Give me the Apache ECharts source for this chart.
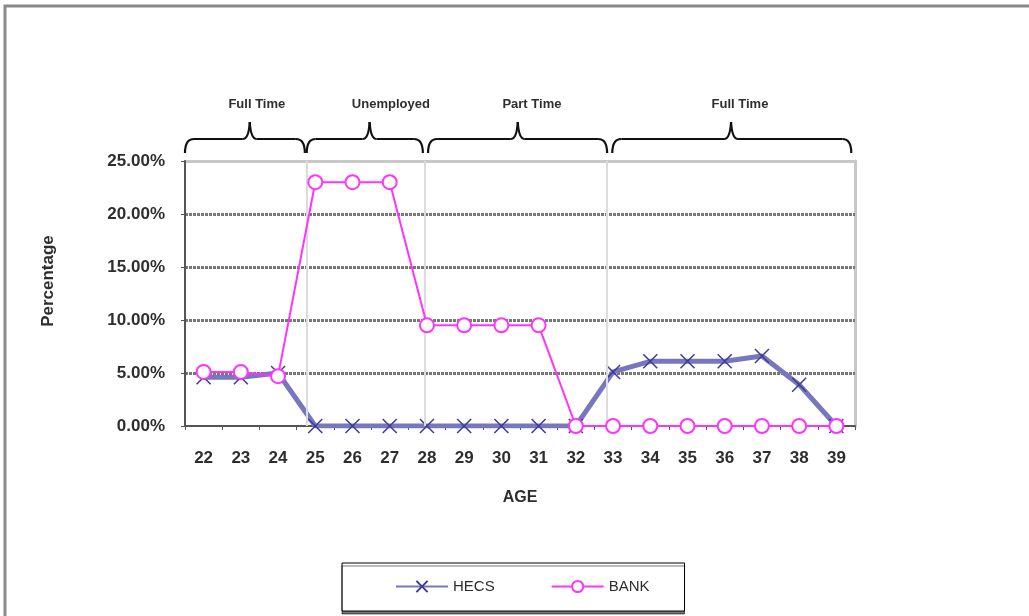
<!DOCTYPE html>
<html>
<head>
<meta charset="utf-8">
<script src="https://cdn.jsdelivr.net/npm/echarts@6/dist/echarts.min.js"></script>
<style>
  html, body { margin: 0; padding: 0; background: #fff; }
  #chart { width: 1029px; height: 616px; }
</style>
</head>
<body>
<div id="chart"></div>
<script>
// Ages on the category axis
const ages = ['22', '23', '24', '25', '26', '27', '28', '29', '30', '31', '32', '33', '34', '35', '36', '37', '38', '39'];
// Repayment share of income, in percent
const hecs = [4.6, 4.6, 5.0, 0, 0, 0, 0, 0, 0, 0, 0, 5.1, 6.1, 6.1, 6.1, 6.6, 3.9, 0];
const bank = [5.1, 5.1, 4.7, 23.0, 23.0, 23.0, 9.5, 9.5, 9.5, 9.5, 0, 0, 0, 0, 0, 0, 0, 0];
// Y axis ticks (percent)
const yTicks = [0, 5, 10, 15, 20, 25];

// Employment phases along the age scale (age 22 sits at 22, category edges at x.5)
const phaseLabels = ['Full Time', 'Unemployed', 'Part Time', 'Full Time'];
const phaseStart = [21.5, 24.77, 28.03, 32.98];
const phaseEnd = [24.72, 27.89, 32.84, 39.4];
const phaseTip = [23.24, 26.46, 30.44, 36.17];
const phaseLabelAt = [23.43, 27.03, 30.82, 36.41];
// Boundaries between phases
const dividers = [24.77, 27.94, 32.84];

const FONT = '"Liberation Sans", Arial, sans-serif';
const TXT = '#2e2e2e';

const chart = echarts.init(document.getElementById('chart'), null, { renderer: 'canvas' });

const baseGraphic = [
  {
    type: 'rect',
    z: -10,
    silent: true,
    shape: { x: 5, y: 6, width: 1100, height: 700 },
    style: { fill: 'none', stroke: '#8a8a8a', lineWidth: 3 }
  },
  {
    type: 'text',
    silent: true,
    x: 48, y: 281,
    rotation: Math.PI / 2,
    style: {
      text: 'Percentage',
      fontFamily: FONT, fontSize: 17, fontWeight: 'bold', fill: TXT,
      align: 'center', verticalAlign: 'middle'
    }
  }
];

const option = {
  backgroundColor: '#fff',
  animation: false,
  textStyle: { fontFamily: FONT },
  grid: { left: 185, right: 174, top: 161, bottom: 190, containLabel: false },
  legend: {
    data: ['HECS', 'BANK'],
    left: 342, top: 563,
    orient: 'horizontal',
    itemWidth: 52, itemHeight: 14, itemGap: 56,
    padding: [16, 35, 17, 53],
    backgroundColor: '#fff',
    borderColor: '#000', borderWidth: 1,
    shadowColor: 'rgba(0,0,0,0.55)', shadowOffsetX: 0, shadowOffsetY: 3, shadowBlur: 0,
    textStyle: { fontFamily: FONT, fontSize: 15, color: TXT }
  },
  xAxis: [
    {
      type: 'category',
      data: ages,
      boundaryGap: true,
      name: 'AGE',
      nameLocation: 'middle',
      nameGap: 64,
      nameTextStyle: { fontFamily: FONT, fontSize: 16, fontWeight: 'bold', color: TXT },
      axisLine: { lineStyle: { color: '#555', width: 2 } },
      axisTick: { show: true, length: 4, lineStyle: { color: '#555', width: 1 } },
      axisLabel: { margin: 24, fontFamily: FONT, fontSize: 17, fontWeight: 'bold', color: TXT },
      splitLine: { show: false },
      z: 3
    },
    {
      // age scale used to place phase braces and dividers; also draws the top frame
      type: 'value',
      position: 'top',
      min: 21.5, max: 39.5,
      axisLine: { show: true, onZero: false, lineStyle: { color: '#c8c8c8', width: 3 } },
      axisTick: { show: false },
      axisLabel: { show: false },
      splitLine: { show: false }
    }
  ],
  yAxis: [
    {
      type: 'value',
      min: 0, max: 25, interval: 5,
      axisLine: { show: true, lineStyle: { color: '#555', width: 2 } },
      axisTick: { show: true, length: 4, lineStyle: { color: '#555', width: 1 } },
      axisLabel: {
        margin: 20, fontFamily: FONT, fontSize: 17, fontWeight: 'bold', color: TXT,
        formatter: v => (yTicks.includes(v) ? v.toFixed(2) + '%' : '')
      },
      splitLine: {
        show: true,
        lineStyle: {
          type: [3, 1],
          width: 3,
          color: ['rgba(0,0,0,0)', '#777', '#777', '#777', '#777', 'rgba(0,0,0,0)']
        }
      },
      z: 3
    },
    {
      // right frame of the plot area
      type: 'value',
      position: 'right',
      min: 0, max: 25, interval: 5,
      axisLine: { show: true, lineStyle: { color: '#c8c8c8', width: 3 } },
      axisTick: { show: false },
      axisLabel: { show: false },
      splitLine: { show: false }
    }
  ],
  series: [
    {
      name: 'phase dividers',
      type: 'line',
      xAxisIndex: 1, yAxisIndex: 0,
      data: [],
      silent: true,
      z: 1,
      markLine: {
        silent: true,
        symbol: 'none',
        label: { show: false },
        lineStyle: { color: '#dcdcdc', width: 2, type: 'solid' },
        data: dividers.map(v => ({ xAxis: v }))
      }
    },
    {
      name: 'HECS',
      type: 'line',
      xAxisIndex: 0, yAxisIndex: 0,
      data: hecs,
      z: 4,
      symbol: 'path://M0,0L10,10M10,0L0,10',
      symbolSize: 14,
      showAllSymbol: true,
      lineStyle: { color: '#7777bd', width: 5 },
      itemStyle: { color: '#3c3c96', borderColor: '#3c3c96', borderWidth: 1.5 }
    },
    {
      name: 'BANK',
      type: 'line',
      xAxisIndex: 0, yAxisIndex: 0,
      data: bank,
      z: 5,
      symbol: 'emptyCircle',
      symbolSize: 14,
      showAllSymbol: true,
      lineStyle: { color: '#ff33ff', width: 2 },
      itemStyle: { color: '#ff33ff', borderColor: '#ff33ff', borderWidth: 1.5 }
    }
  ],
  graphic: baseGraphic
};

chart.setOption(option);

// Curly braces and phase labels above the plot, placed on the age scale
const gridTop = 161;
const yEnd = gridTop - 8;
const yBar = gridTop - 22;
const yTip = gridTop - 39;
const yLabel = 104;
const px = v => chart.convertToPixel({ xAxisIndex: 1 }, v);
const braceStyle = { fill: 'none', stroke: '#111', lineWidth: 2.2 };

const extra = [];
phaseLabels.forEach((label, i) => {
  const x1 = px(phaseStart[i]);
  const x2 = px(phaseEnd[i]);
  const xm = px(phaseTip[i]);
  const r = 9;
  const parts = [
    { type: 'bezierCurve', shape: { x1: x1, y1: yEnd, cpx1: x1, cpy1: yBar, x2: x1 + r, y2: yBar } },
    { type: 'line', shape: { x1: x1 + r, y1: yBar, x2: xm - 7, y2: yBar } },
    { type: 'bezierCurve', shape: { x1: xm - 7, y1: yBar, cpx1: xm - 1, cpy1: yBar, x2: xm, y2: yTip } },
    { type: 'bezierCurve', shape: { x1: xm, y1: yTip, cpx1: xm + 1, cpy1: yBar, x2: xm + 7, y2: yBar } },
    { type: 'line', shape: { x1: xm + 7, y1: yBar, x2: x2 - r, y2: yBar } },
    { type: 'bezierCurve', shape: { x1: x2 - r, y1: yBar, cpx1: x2, cpy1: yBar, x2: x2, y2: yEnd } }
  ];
  parts.forEach(p => {
    p.silent = true;
    p.style = braceStyle;
    extra.push(p);
  });
  extra.push({
    type: 'text',
    silent: true,
    x: px(phaseLabelAt[i]),
    y: yLabel,
    style: {
      text: label,
      fontFamily: FONT, fontSize: 13, fontWeight: 'bold', fill: TXT,
      align: 'center', verticalAlign: 'middle'
    }
  });
});

chart.setOption({ graphic: baseGraphic.concat(extra) }, { replaceMerge: ['graphic'] });
</script>
</body>
</html>
